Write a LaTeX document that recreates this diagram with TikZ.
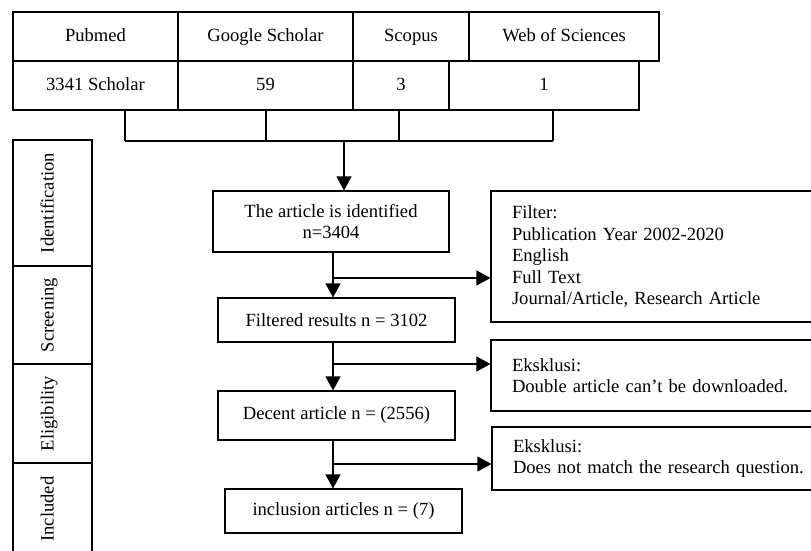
\documentclass[tikz,border=0pt]{standalone}
\usepackage{fontspec}
\setmainfont{Liberation Serif}
\usetikzlibrary{arrows.meta}

\begin{document}
\begin{tikzpicture}[x=1pt,y=-1pt,line width=1.1pt,font=\fontsize{18.6}{21.5}\selectfont]
                \tikzstyle{cell}=[draw=black,minimum height=49pt,inner sep=0pt,text height=13pt,text depth=4pt]
                \tikzstyle{flowbox}=[draw=black,align=center,minimum width=237pt,inner sep=0pt]
                \tikzstyle{notebox}=[draw=black,align=left,text width=310pt,inner xsep=21pt,inner ysep=0pt]
                \tikzstyle{stagebox}=[draw=black,rotate=90,minimum height=79pt,inner sep=0pt,text height=7pt,text depth=5pt]
                \tikzstyle{arrow}=[-{Triangle[width=15pt,length=14pt]}]
                \useasboundingbox (0,0) rectangle (811,550);

                % sources
                \foreach \name/\x/\w/\txt in {pub/95.5/165/Pubmed, gs/265.5/175/Google Scholar, sco/411/116/Scopus, wos/564/190/Web of Sciences}
                        \node[cell,minimum width=\w pt] (H-\name) at (\x,36.5) {\txt};
                \foreach \name/\x/\w/\txt in {pub/95.5/165/3341 Scholar, gs/265.5/175/59, sco/401/96/3, wos/544/190/1}
                        \node[cell,minimum width=\w pt] (N-\name) at (\x,85.5) {\txt};

                % stages
                \foreach \name/\y/\h/\txt in {idf/203/126/Identification, scr/315/98/Screening, eli/413.5/99/Eligibility, inc/509/92/Included}
                        \node[stagebox,minimum width=\h pt] (S-\name) at (52.5,\y) {\txt};

                \node[flowbox,minimum width=236pt,minimum height=61pt] (ident) at (331,221.5) {The article is identified\\n=3404};
                \node[flowbox,minimum height=44pt] (filt) at (336.5,320) {Filtered results n = 3102};
                \node[flowbox,minimum height=49pt] (dec) at (336.5,415.5) {Decent article n = (2556)};
                \node[flowbox,minimum height=44pt] (incl) at (343.5,511) {inclusion articles n = (7)};

                \node[notebox,minimum height=131pt] (filter) at (667,256.5) {Filter:\\Publication Year 2002-2020\\English\\Full Text\\Journal/Article, Research Article};
                \node[notebox,minimum height=71pt] (exc1) at (667,375.5) {Eksklusi:\\Double article can’t be downloaded.};
                \node[notebox,minimum height=63pt] (exc2) at (668,458.5) {Eksklusi:\\Does not match the research question.};

                % bracket under the sources
                \foreach \b/\x/\cell in {1/125/pub, 2/266/gs, 3/399/sco, 4/553/wos}{
                        \coordinate (B-\b) at (\x,141);
                        \draw (N-\cell.south -| B-\b) -- (B-\b);
                }
                \draw (B-1) -- (B-4);
                \coordinate (join) at (344,141);
                \draw[arrow] (join) -- (join |- ident.north);

                % main flow
                \coordinate (spine) at (333,0);
                \draw[arrow] (ident.south -| spine) -- (filt.north -| spine);
                \draw[arrow] (filt.south -| spine) -- (dec.north -| spine);
                \draw[arrow] (dec.south -| spine) -- (incl.north -| spine);
                \foreach \y/\to in {278/filter, 364/exc1, 464/exc2}{
                        \coordinate (K-\to) at (333,\y);
                        \draw[arrow] (K-\to) -- (K-\to -| \to.west);
                }
\end{tikzpicture}
\end{document}
